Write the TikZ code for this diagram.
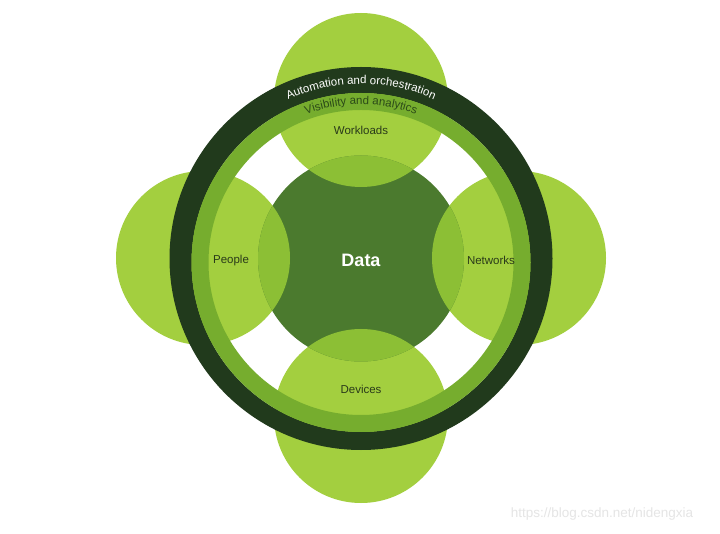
\documentclass[tikz,border=0pt]{standalone}
\usepackage{fontspec}
\setmainfont{Liberation Sans}
\setsansfont{Liberation Sans}
\usetikzlibrary{decorations.text}
\definecolor{lightg}{HTML}{A3CF3F}
\definecolor{lensg}{HTML}{8CBF35}
\definecolor{datag}{HTML}{4B7A2E}
\definecolor{ringg}{HTML}{76AD2E}
\definecolor{darkr}{HTML}{213A1C}
\definecolor{labeltext}{HTML}{2A3A1A}
\definecolor{vistext}{HTML}{2B4A18}
\begin{document}
\begin{tikzpicture}[x=1pt,y=1pt,
  petal/.style={circle, fill=lightg, minimum size=174pt, inner sep=0pt},
  lbl/.style={font=\fontsize{11.5}{13}\selectfont, text=labeltext, inner sep=0pt}]
\useasboundingbox[fill=white] (0,0) rectangle (720,533);
% outer petals
\node[petal] (top) at (361,433) {};
\node[petal] (bottom) at (361,117) {};
\node[petal] (left) at (203,275) {};
\node[petal] (right) at (519,275) {};
% data circle
\node[circle, fill=datag, minimum size=206pt, inner sep=0pt] (data) at (361,274.5) {};
% lenses
\begin{scope}
  \clip (data.center) circle (103);
  \fill[lensg] (top.center) circle (87);
  \fill[lensg] (bottom.center) circle (87);
  \fill[lensg] (left.center) circle (87);
  \fill[lensg] (right.center) circle (87);
\end{scope}
% rings
\coordinate (oc) at (361,274.5);
\coordinate (ic) at (361,270.5);
\fill[darkr, even odd rule] (oc) circle (191.5) (ic) circle (169.5);
\fill[ringg, even odd rule] (ic) circle (169.5) (ic) circle (152.5);
% ring texts
\path[decorate, decoration={text along path, text align=center, text color=white,
  text={|\fontsize{11.5}{13}\selectfont|Automation and orchestration}}]
  (ic) ++(150:178.5) arc[start angle=150, end angle=30, radius=178.5];
\path[decorate, decoration={text along path, text align=center, text color=vistext,
  text={|\fontsize{11.5}{13}\selectfont|Visibility and analytics}}]
  (ic) ++(150:158) arc[start angle=150, end angle=30, radius=158];
% labels
\node[lbl] (lw) at (361,403) {Workloads};
\node[lbl] (lp) at (231,272) {People};
\node[lbl] (ln) at (491,273) {Networks};
\node[lbl] (ld) at (361,144) {Devices};
\node[font=\bfseries\fontsize{18}{20}\selectfont, text=white, inner sep=0pt] (ldata) at (361,273) {Data};
% watermark
\node[font=\fontsize{13.5}{15}\selectfont, text=black!10, inner sep=0pt] (wm) at (602,19) {https://blog.csdn.net/nidengxia};
\end{tikzpicture}
\end{document}
